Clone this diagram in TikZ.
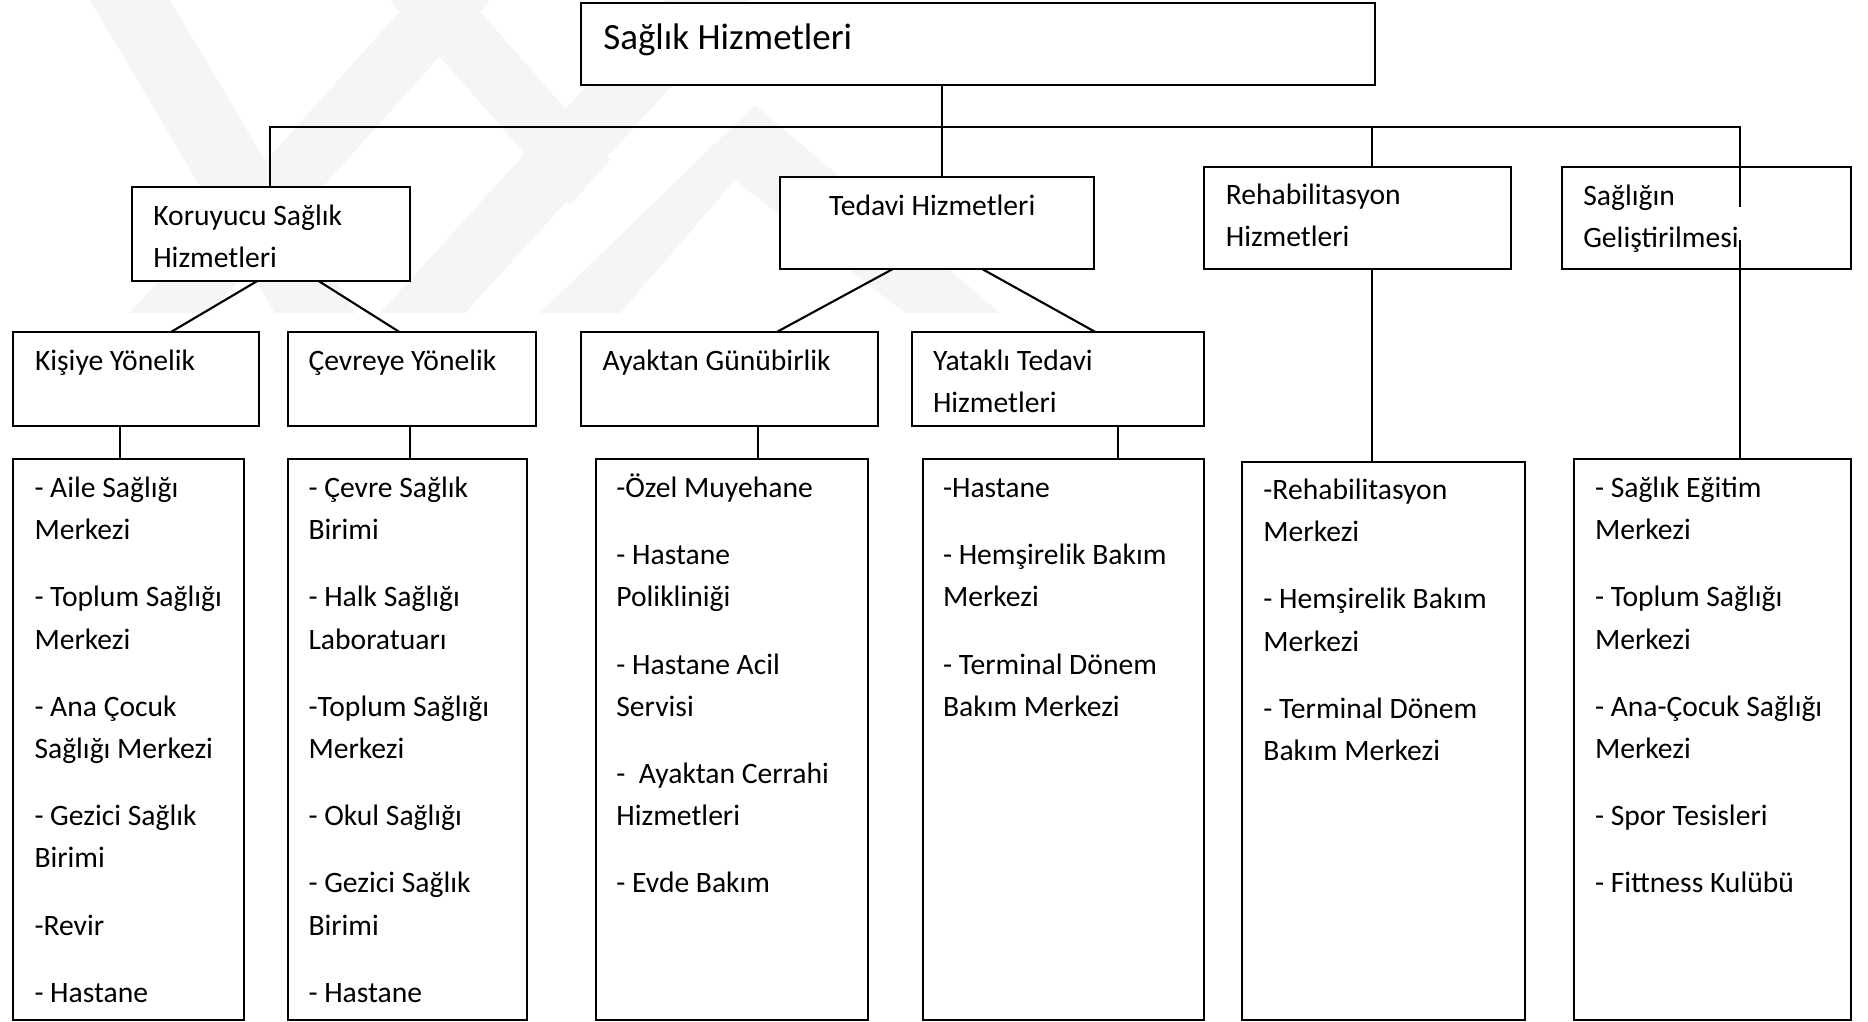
\documentclass[tikz,border=0pt]{standalone}
\usepackage{fontspec}
\setmainfont{Carlito}
\begin{document}
\begin{tikzpicture}[x=1pt,y=-1pt,
  box/.style={draw=black, line width=2pt, fill=white, inner sep=0pt, outer sep=0pt, anchor=north west},
  conn/.style={draw=black, line width=2.1pt},
  wm/.style={fill=black!4},
  lbl/.style={anchor=base west, inner sep=0pt, outer sep=0pt, font=\fontsize{29.6}{42.2}\selectfont},
  ttl/.style={anchor=base west, inner sep=0pt, outer sep=0pt, font=\fontsize{37}{44}\selectfont},
]
\newcommand\rbox[5]{\node[box, minimum width={#4-#2}, minimum height={#5-#3}] (#1) at (#2,#3) {};}
\newcommand\lines[1]{\begin{tabular}[t]{@{}l@{}}#1\end{tabular}}

% page
\fill[white] (0,0) rectangle (1868,1022);
\useasboundingbox (0,0) rectangle (1868,1022);

% faint background emblem
\fill[wm] (90,0) -- (170,0) -- (355,313) -- (275,313) -- cycle;
\fill[wm] (130,313) -- (210,313) -- (490,0) -- (410,0) -- cycle;
\fill[wm] (380,313) -- (465,313) -- (750,0) -- (665,0) -- cycle;
\fill[wm] (540,313) -- (755,105) -- (1000,313) -- (905,313) -- (735,180) -- (620,313) -- cycle;
\fill[wm] (390,0) -- (470,0) -- (610,160) -- (570,205) -- cycle;

% boxes
\rbox{T}{581}{3.5}{1375}{85}
\rbox{K}{131.6}{186.7}{409.8}{281}
\rbox{D}{779.6}{176.7}{1093.6}{268.7}
\rbox{R}{1204.4}{166.7}{1510.5}{268.7}
\rbox{G}{1562.4}{166.7}{1851}{268.7}
\rbox{L1}{13}{331.7}{258.5}{426}
\rbox{L2}{287.7}{331.7}{536}{426}
\rbox{L3}{581.3}{331.7}{878}{426}
\rbox{L4}{912}{331.7}{1204.4}{426}
\rbox{B1}{13.1}{459.3}{244.2}{1019.8}
\rbox{B2}{287.7}{459.3}{526.5}{1019.8}
\rbox{B3}{595.6}{459.3}{868.4}{1019.8}
\rbox{B4}{923.2}{459.3}{1204.4}{1019.8}
\rbox{B5}{1241.9}{461.5}{1524.8}{1019.8}
\rbox{B6}{1574.3}{459.3}{1851.2}{1019.8}

% connectors
\coordinate (busL) at (270,126.7);
\coordinate (busR) at (1740,126.7);
\coordinate (gIn) at (1740,206.7);
\coordinate (gOut) at (1740,240);
\draw[conn] (K.north -| busL) -- (busL) -- (busR) -- (gIn);
\draw[conn] (942.3,0 |- T.south) -- (942.3,0 |- D.north);
\draw[conn] (1372.4,0 |- busL) -- (1372.4,0 |- R.north);
\draw[conn] (1372.4,0 |- R.south) -- (1372.4,0 |- B5.north);
\draw[conn] (gOut) -- (gOut |- B6.north);

\draw[conn] (257.3,0 |- K.south) -- (171.5,0 |- L1.north);
\draw[conn] (318.6,0 |- K.south) -- (399,0 |- L2.north);
\draw[conn] (893.4,0 |- D.south) -- (777.3,0 |- L3.north);
\draw[conn] (981.6,0 |- D.south) -- (1094.8,0 |- L4.north);

\draw[conn] (120.3,0 |- L1.south) -- (120.3,0 |- B1.north);
\draw[conn] (409.8,0 |- L2.south) -- (409.8,0 |- B2.north);
\draw[conn] (758.2,0 |- L3.south) -- (758.2,0 |- B3.north);
\draw[conn] (1118,0 |- L4.south) -- (1118,0 |- B4.north);

% labels
\node[ttl] (tT) at (603.3,50) {Sağlık Hizmetleri};
\node[lbl] (tK) at (153.3,225) {\lines{Koruyucu Sağlık\\ Hizmetleri}};
\node[lbl] (tD) at (829,215.5) {Tedavi Hizmetleri};
\node[lbl] (tR) at (1225.8,204) {\lines{Rehabilitasyon\\ Hizmetleri}};
\node[lbl] (tG) at (1583.3,205) {\lines{Sağlığın\\ Geliştirilmesi}};
\node[lbl] (tL1) at (35,370.7) {Kişiye Yönelik};
\node[lbl] (tL2) at (308.5,370.7) {Çevreye Yönelik};
\node[lbl] (tL3) at (602.7,370.7) {Ayaktan Günübirlik};
\node[lbl] (tL4) at (933,370) {\lines{Yataklı Tedavi\\ Hizmetleri}};

\node[lbl] (tB1) at (34.5,497.5) {\lines{- Aile Sağlığı\\ Merkezi\\[25pt]
  - Toplum Sağlığı\\ Merkezi\\[25pt]
  - Ana Çocuk\\ Sağlığı Merkezi\\[25pt]
  - Gezici Sağlık\\ Birimi\\[25pt]
  -Revir\\[25pt]
  - Hastane}};
\node[lbl] (tB2) at (308.5,497.5) {\lines{- Çevre Sağlık\\ Birimi\\[25pt]
  - Halk Sağlığı\\ Laboratuarı\\[25pt]
  -Toplum Sağlığı\\ Merkezi\\[25pt]
  - Okul Sağlığı\\[25pt]
  - Gezici Sağlık\\ Birimi\\[25pt]
  - Hastane}};
\node[lbl] (tB3) at (616.4,497.5) {\lines{-Özel Muyehane\\[25pt]
  - Hastane\\ Polikliniği\\[25pt]
  - Hastane Acil\\ Servisi\\[25pt]
  -\ \ Ayaktan Cerrahi\\ Hizmetleri\\[25pt]
  - Evde Bakım}};
\node[lbl] (tB4) at (943,497.5) {\lines{-Hastane\\[25pt]
  - Hemşirelik Bakım\\ Merkezi\\[25pt]
  - Terminal Dönem\\ Bakım Merkezi}};
\node[lbl] (tB5) at (1263.4,499.4) {\lines{-Rehabilitasyon\\ Merkezi\\[25pt]
  - Hemşirelik Bakım\\ Merkezi\\[25pt]
  - Terminal Dönem\\ Bakım Merkezi}};
\node[lbl] (tB6) at (1595,497.5) {\lines{- Sağlık Eğitim\\ Merkezi\\[25pt]
  - Toplum Sağlığı\\ Merkezi\\[25pt]
  - Ana-Çocuk Sağlığı\\ Merkezi\\[25pt]
  - Spor Tesisleri\\[25pt]
  - Fittness Kulübü}};
\end{tikzpicture}
\end{document}
